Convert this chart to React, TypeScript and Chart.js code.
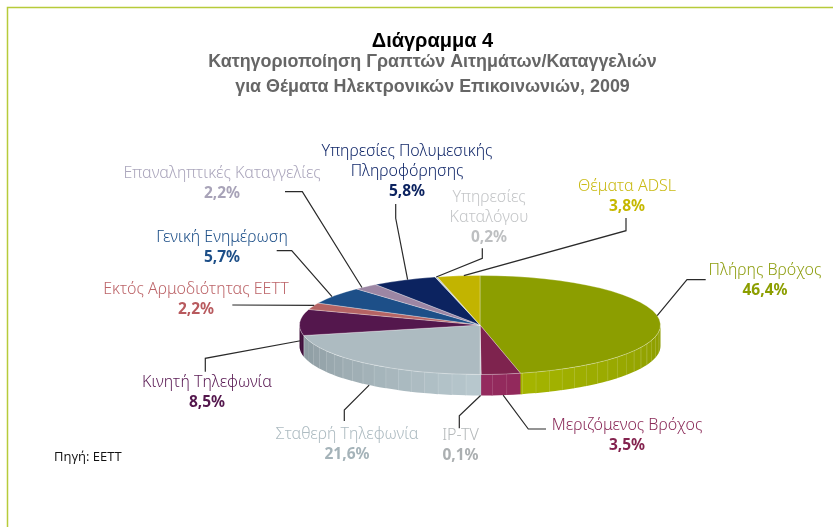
import React, { useEffect, useRef } from "react";
import { Chart, registerables } from "chart.js";

Chart.register(...registerables);

const categories = [
  "Πλήρης Βρόχος",
  "Μεριζόμενος Βρόχος",
  "IP-TV",
  "Σταθερή Τηλεφωνία",
  "Κινητή Τηλεφωνία",
  "Εκτός Αρμοδιότητας ΕΕΤΤ",
  "Γενική Ενημέρωση",
  "Επαναληπτικές Καταγγελίες",
  "Υπηρεσίες Πολυμεσικής\nΠληροφόρησης",
  "Υπηρεσίες\nΚαταλόγου",
  "Θέματα ADSL",
];
const shares = [46.4, 3.5, 0.1, 21.6, 8.5, 2.2, 5.7, 2.2, 5.8, 0.2, 3.8];

const sliceColors = ["#8C9E00", "#7E234E", "#B9C3C8", "#ADBBC1", "#54174D", "#B56464", "#1D4F88", "#9C86A4", "#0C2360", "#C4CCD0", "#C2B400"];
const labelColors = ["#8E9E10", "#8A2A58", "#B4B8BA", "#ADBBC1", "#5E2058", "#BC6468", "#1D4F88", "#ABA6BC", "#13296A", "#C4C6C8", "#C9BA14"];
const valueColors = ["#8C9E00", "#84234F", "#ABAFB1", "#A5B3B9", "#54174D", "#B85A5E", "#1D4F88", "#A8A3B8", "#0C2360", "#BDBFC1", "#C6B800"];
const wallNear = ["#A9B900", "#952A5E", "#BCCBD1", "#B8C8CE", "#5A1A50", "#B56464", "#1D4F88", "#9C86A4", "#0C2360", "#C4CCD0", "#C2B400"];
const wallFar = ["#8B9B00", "#7E234E", "#8A979C", "#86949A", "#3E0E3A", "#B56464", "#1D4F88", "#9C86A4", "#0C2360", "#C4CCD0", "#C2B400"];

const labelX = [765, 627, 460.5, 347, 207, 196, 222, 222, 407, 489, 627];
const labelY = [270, 425, 435, 434, 382, 289, 237, 173, 151, 197, 186];
const anchorNudge = [-4.5, -0.7, 0, -1, 3, 1, -1.6, -1.6, 1.2, 0, 1.7];
const anchorOnWall = [false, true, true, true, true, false, false, false, false, false, false];
const leaderBends: number[][][] = [
  [[687, 279.7], [705.7, 279.7]],
  [[528.3, 429], [546, 429]],
  [[459.3, 415.7], [459.3, 428.3]],
  [[344.3, 410], [344.3, 421]],
  [[205.3, 358.3], [205.3, 371.7]],
  [[232.3, 305]],
  [[291.7, 250.7], [276.7, 250.7]],
  [[302.3, 191.7], [285, 191.7]],
  [[395.7, 218.3], [395.7, 204]],
  [[482.3, 258.3], [482.3, 248.3]],
  [[626, 230.7], [626, 218]],
];

const titleText = "Διάγραμμα 4";
const subtitleLines = ["Κατηγοριοποίηση Γραπτών Αιτημάτων/Καταγγελιών", "για Θέματα Ηλεκτρονικών Επικοινωνιών, 2009"];
const sourceText = "Πηγή: ΕΕΤΤ";

const RY = 49.5;
const DEPTH = 21;
const FACET = (4.5 * Math.PI) / 180;
const LABEL_FONT = "300 16px 'Noto Sans'";
const VALUE_FONT = "700 15.5px 'Noto Sans'";
const HEAD_FONT = "700 20px 'Liberation Sans'";
const SUB_FONT = "700 17.9px 'Liberation Sans'";

const mix = (a: string, b: string, t: number) => {
  const p = (h: string, i: number) => parseInt(h.slice(i, i + 2), 16);
  const c = [1, 3, 5].map((i) => Math.round(p(a, i) + (p(b, i) - p(a, i)) * t));
  return `rgb(${c[0]},${c[1]},${c[2]})`;
};

const geometry = (chart: any) => {
  const first = chart.getDatasetMeta(0).data[0];
  return { cx: first.x, cy: first.y, rx: first.outerRadius };
};

const pie3d = {
  id: "pie3d",
  beforeDatasetsDraw(chart: any) {
    const { ctx } = chart;
    const { cx, cy, rx } = geometry(chart);
    const pt = (a: number) => [cx + rx * Math.cos(a), cy + RY * Math.sin(a)];
    // side wall: visible where the ellipse's lower half is (sin > 0)
    chart.getDatasetMeta(0).data.forEach((arc: any, i: number) => {
      const start = Math.max(arc.startAngle, 0);
      const end = Math.min(arc.endAngle, Math.PI);
      let a = start;
      while (a < end) {
        const b = Math.min(a + FACET, end);
        const mid = (a + b) / 2;
        const t = Math.min(1, Math.abs(mid - Math.PI / 2) / (Math.PI / 2));
        const color = mix(wallNear[i], wallFar[i], t);
        ctx.beginPath();
        ctx.ellipse(cx, cy, rx, RY, 0, a, b + 0.004);
        const [ex, ey] = pt(b + 0.004);
        ctx.lineTo(ex, ey + DEPTH);
        ctx.ellipse(cx, cy + DEPTH, rx, RY, 0, b + 0.004, a, true);
        ctx.closePath();
        ctx.fillStyle = color;
        ctx.fill();
        if (b < end && rx * Math.abs(Math.cos(b)) < rx * 0.93) {
          const [lx, ly] = pt(b);
          ctx.beginPath();
          ctx.moveTo(lx, ly);
          ctx.lineTo(lx, ly + DEPTH);
          ctx.strokeStyle = "rgba(255,255,255,0.28)";
          ctx.lineWidth = 1;
          ctx.stroke();
        }
        a = b;
      }
    });
    ctx.save();
    ctx.translate(cx, cy);
    ctx.scale(1, RY / rx);
    ctx.translate(-cx, -cy);
  },
  afterDatasetsDraw(chart: any) {
    const { ctx } = chart;
    ctx.restore();
    const { cx, cy, rx } = geometry(chart);

    // frame
    ctx.strokeStyle = "#B7CB3A";
    ctx.lineWidth = 1.5;
    ctx.beginPath();
    ctx.moveTo(7.5, 527);
    ctx.lineTo(7.5, 7.5);
    ctx.lineTo(833, 7.5);
    ctx.stroke();

    // leaders and labels
    ctx.textAlign = "center";
    ctx.textBaseline = "middle";
    chart.getDatasetMeta(0).data.forEach((arc: any, i: number) => {
      const a = (arc.startAngle + arc.endAngle) / 2 + (anchorNudge[i] * Math.PI) / 180;
      ctx.beginPath();
      ctx.moveTo(cx + rx * Math.cos(a), cy + RY * Math.sin(a) + (anchorOnWall[i] ? DEPTH : 0));
      leaderBends[i].forEach(([x, y]) => ctx.lineTo(x, y));
      ctx.strokeStyle = "#2A2A2A";
      ctx.lineWidth = 1.2;
      ctx.stroke();

      const lines = categories[i].split("\n");
      ctx.font = LABEL_FONT;
      ctx.fillStyle = labelColors[i];
      lines.forEach((line, k) => ctx.fillText(line, labelX[i], labelY[i] + k * 20.5));
      ctx.font = VALUE_FONT;
      ctx.fillStyle = valueColors[i];
      const value = shares[i].toFixed(1).replace(".", ",") + "%";
      ctx.fillText(value, labelX[i], labelY[i] + lines.length * 20.5);
    });

    // titles
    ctx.font = HEAD_FONT;
    ctx.fillStyle = "#000000";
    ctx.fillText(titleText, 432.5, 41);
    ctx.font = SUB_FONT;
    ctx.fillStyle = "#666666";
    subtitleLines.forEach((line, k) => ctx.fillText(line, 432.5, 62 + k * 25));

    ctx.font = "400 13px 'Open Sans'";
    ctx.fillStyle = "#111111";
    ctx.textAlign = "left";
    ctx.fillText(sourceText, 54, 457);
  },
};

export default function App() {
  const ref = useRef<HTMLCanvasElement>(null);
  useEffect(() => {
    const chart = new Chart(ref.current as HTMLCanvasElement, {
      type: "pie",
      data: {
        labels: categories,
        datasets: [
          {
            data: shares,
            backgroundColor: sliceColors,
            borderColor: "rgba(255,255,255,0.45)",
            borderWidth: 1,
          },
        ],
      },
      options: {
        responsive: false,
        animation: false,
        layout: { padding: { left: 299, right: 172, top: 144, bottom: 21 } },
        plugins: { legend: { display: false }, tooltip: { enabled: false }, title: { display: false } },
      },
      plugins: [pie3d],
    } as any);
    return () => chart.destroy();
  }, []);
  return (
    <div style={{ position: "absolute", left: 0, top: 0, width: 833, height: 527, background: "#fff" }}>
      <canvas ref={ref} width={833} height={527} style={{ display: "block" }} />
    </div>
  );
}
